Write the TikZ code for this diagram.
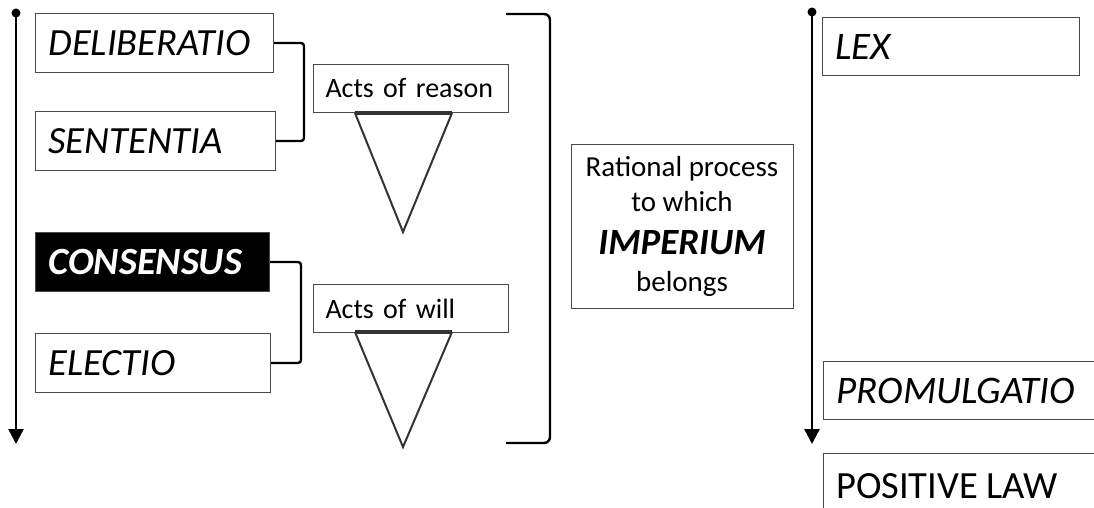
\documentclass[tikz,border=0pt]{standalone}
\usepackage{fontspec}
\setmainfont{Carlito}
\usetikzlibrary{arrows.meta}
\definecolor{boxgray}{HTML}{4A4A4A}
\definecolor{trigray}{HTML}{333333}
\tikzset{
  box/.style={draw=boxgray, line width=1pt, anchor=north west, inner xsep=13pt, inner ysep=0pt, align=left},
  term/.style={font=\fontsize{38.5}{44}\selectfont\itshape},
  bigterm/.style={font=\fontsize{39}{44}\selectfont\itshape},
  small/.style={font=\fontsize{28}{32}\selectfont},
  brace/.style={line width=2.4pt, rounded corners=3pt},
  timeline/.style={line width=2.4pt, -{Triangle[length=15pt,width=15pt]}},
  startdot/.style={circle, fill=black, inner sep=0pt, minimum size=9pt},
  wedge/.style={draw=trigray, line width=2pt, line join=miter},
  wedgetop/.style={draw=trigray, line width=3.5pt}
}
\begin{document}
\begin{tikzpicture}[x=1pt,y=-1pt]
\clip (0,0) rectangle (1094,508);
\fill[white] (0,0) rectangle (1094,508);

% left column: the four stages
\node[box, term, text width=212pt, minimum height=59pt] (delib) at (35,13) {DELIBERATIO};
\node[box, term, text width=214pt, minimum height=59pt] (sent) at (35,111) {SENTENTIA};
\node[box, term, fill=black, text=white, font=\fontsize{38.5}{44}\selectfont\bfseries\itshape, text width=208pt, minimum height=59pt] (cons) at (35,232) {CONSENSUS};
\node[box, term, text width=209pt, minimum height=59pt] (elec) at (35,333) {ELECTIO};

% time line on the left
\node[startdot] (ltop) at (16,13) {};
\coordinate (lend) at (16,444);
\draw[timeline] (ltop.center) -- (lend);

% brackets grouping the stages
\draw[brace] (delib.east) -- ++(30,0) |- (sent.east);
\draw[brace] (cons.east) -- ++(31,0) |- (elec.east);

% acts of reason / acts of will with their wedges
\node[box, small, inner xsep=12pt, text width=171pt, minimum height=48pt] (reason) at (313,64) {Acts of reason};
\node[box, small, inner xsep=12pt, text width=171pt, minimum height=48pt] (will) at (313,284) {Acts of will};

\coordinate (r1) at (355,113);
\coordinate (r2) at (452,113);
\coordinate (r3) at (403,232);
\draw[wedge] (r1) -- (r3) -- (r2);
\draw[wedgetop] (r1) -- (r2);

\coordinate (w1) at (355,332);
\coordinate (w2) at (452,332);
\coordinate (w3) at (403,447);
\draw[wedge] (w1) -- (w3) -- (w2);
\draw[wedgetop] (w1) -- (w2);

% large closing bracket
\coordinate (b1) at (506,14);
\coordinate (b2) at (550,14);
\coordinate (b3) at (550,443);
\coordinate (b4) at (506,443);
\draw[brace, rounded corners=6pt] (b1) -- (b2) -- (b3) -- (b4);

% rational process box
\node[draw=boxgray, line width=1pt, minimum width=222pt, minimum height=164pt, align=center, font=\fontsize{29}{35}\selectfont] (ratio) at (682,226)
  {Rational process\\to which\\[8pt]{\fontsize{37}{35}\selectfont\bfseries\itshape IMPERIUM}\\[2pt]belongs};

% right column: from law to positive law
\node[startdot] (rtop) at (812,12) {};
\coordinate (rend) at (812,444);
\draw[timeline] (rtop.center) -- (rend);

\node[box, bigterm, text width=231pt, minimum height=58pt] (lex) at (822,17) {LEX};
\node[box, bigterm, text width=300pt, minimum height=58pt] (prom) at (823,361) {PROMULGATIO};
\node[box, text width=300pt, minimum height=90pt] (pos) at (823,453) {};
\node[anchor=base west, font=\fontsize{38.5}{44}\selectfont, inner sep=0pt] (postext) at (836,498) {POSITIVE LAW};
\end{tikzpicture}
\end{document}
